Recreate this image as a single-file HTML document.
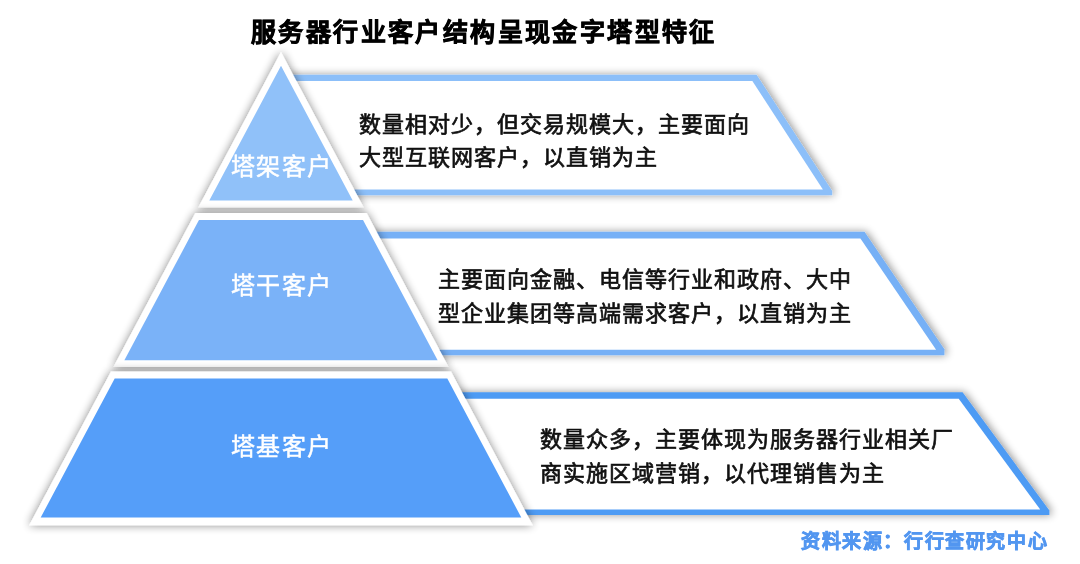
<!DOCTYPE html>
<html lang="zh-CN"><head><meta charset="utf-8">
<style>
html,body{margin:0;padding:0;background:#fff;}
body{width:1080px;height:564px;position:relative;overflow:hidden;font-family:"Liberation Sans",sans-serif;}
#wrap{position:absolute;left:0;top:0;width:1080px;height:564px;background:#fff;filter:blur(0.45px);}
.t{position:absolute;white-space:nowrap;}
.title{left:251px;top:14px;font-size:25px;letter-spacing:2.4px;font-weight:700;color:#000;-webkit-text-stroke:0.75px #000;line-height:36px;}
.lbl{color:#fff;font-size:24px;letter-spacing:1.3px;text-indent:1.3px;line-height:30px;-webkit-text-stroke:0.5px #fff;width:200px;text-align:center;left:181px;}
.desc{color:#111;font-size:22px;letter-spacing:1px;line-height:33.5px;-webkit-text-stroke:0.7px #111;}
.src{left:801px;top:527.5px;font-size:19px;letter-spacing:1.6px;-webkit-text-stroke:0.7px #5296F0;font-weight:700;color:#5296F0;line-height:28px;}
</style></head><body><div id="wrap">
<svg width="1080" height="564" viewBox="0 0 1080 564" style="position:absolute;left:0;top:0"><defs>
<filter id="sh" x="-20%" y="-20%" width="140%" height="140%">
  <feGaussianBlur in="SourceAlpha" stdDeviation="5"/>
  <feOffset dx="-0.5" dy="0" result="b"/>
  <feComponentTransfer><feFuncA type="linear" slope="0.48"/></feComponentTransfer>
  <feMerge><feMergeNode/><feMergeNode in="SourceGraphic"/></feMerge>
</filter>
<filter id="shb" x="-20%" y="-20%" width="140%" height="140%">
  <feGaussianBlur in="SourceAlpha" stdDeviation="4.5"/>
  <feOffset dx="1.5" dy="0" result="b"/>
  <feComponentTransfer><feFuncA type="linear" slope="0.42"/></feComponentTransfer>
  <feMerge><feMergeNode/><feMergeNode in="SourceGraphic"/></feMerge>
</filter>
</defs><g filter="url(#shb)"><polygon points="281.00,74.80 756.62,74.80 832.20,191.08 832.20,195.20 281.00,195.20" fill="#8CBFF9"/><polygon points="281.00,81.00 752.35,81.00 822.88,189.50 281.00,189.50" fill="#fff"/></g><g filter="url(#shb)"><polygon points="281.00,231.80 864.52,231.80 944.40,349.26 944.40,355.30 281.00,355.30" fill="#76B0F6"/><polygon points="281.00,238.40 860.41,238.40 936.10,349.70 281.00,349.70" fill="#fff"/></g><g filter="url(#shb)"><polygon points="281.00,392.30 962.59,392.30 1049.40,510.41 1049.40,515.00 281.00,515.00" fill="#4E9BF4"/><polygon points="281.00,398.75 958.73,398.75 1040.21,509.60 281.00,509.60" fill="#fff"/></g><g filter="url(#sh)"><polygon points="281.00,52.00 363.73,207.50 198.27,207.50" fill="#fff"/><polygon points="281.00,65.80 352.71,200.60 209.29,200.60" fill="#90C1F9"/></g><g filter="url(#sh)"><polygon points="195.35,213.00 366.65,213.00 448.58,367.00 113.42,367.00" fill="#fff"/><polygon points="198.97,220.00 363.03,220.00 437.62,360.20 124.38,360.20" fill="#7AB2F8"/></g><g filter="url(#sh)"><polygon points="111.03,371.50 450.97,371.50 532.77,525.25 29.23,525.25" fill="#fff"/><polygon points="114.70,378.40 447.30,378.40 521.30,517.50 40.70,517.50" fill="#549EF9"/></g></svg>
<div class="t title">服务器行业客户结构呈现金字塔型特征</div>
<div class="t lbl" style="top:152px">塔架客户</div>
<div class="t lbl" style="top:271.2px">塔干客户</div>
<div class="t lbl" style="top:431.7px">塔基客户</div>
<div class="t desc" style="left:358.7px;top:108px;line-height:33px">数量相对少，但交易规模大，主要面向<br>大型互联网客户，以直销为主</div>
<div class="t desc" style="left:437.7px;top:263px">主要面向金融、电信等行业和政府、大中<br>型企业集团等高端需求客户，以直销为主</div>
<div class="t desc" style="left:540.4px;top:423px">数量众多，主要体现为服务器行业相关厂<br>商实施区域营销，以代理销售为主</div>
<div class="t src">资料来源：行行查研究中心</div>
</div></body></html>
